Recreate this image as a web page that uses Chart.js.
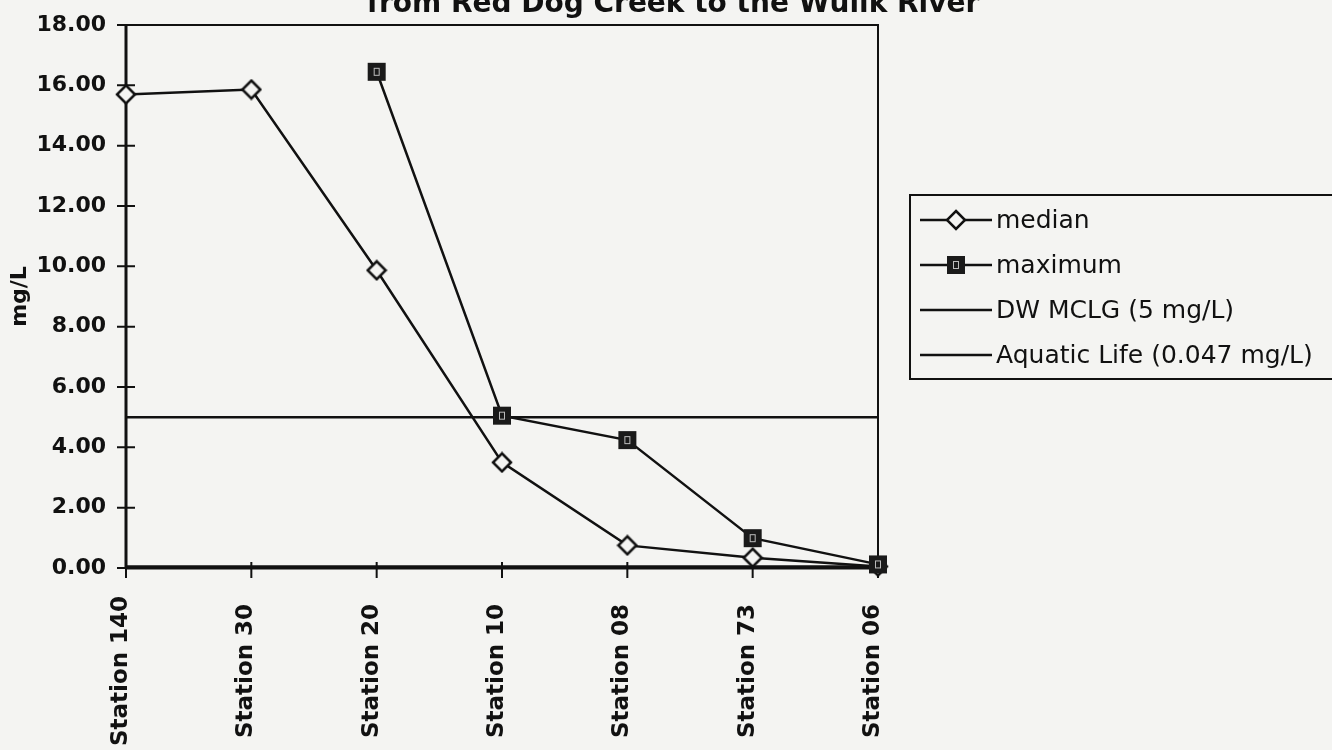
<!DOCTYPE html>
<html>
<head>
<meta charset="utf-8">
<script src="https://cdn.jsdelivr.net/npm/chart.js@4.4.1/dist/chart.umd.min.js"></script>
<style>
  body { margin: 0; background: #f4f4f2; }
  canvas { display: block; }
</style>
</head>
<body>
<canvas id="myChart" width="1332" height="750"></canvas>
<script>
// data
const stations = ['Station 140', 'Station 30', 'Station 20', 'Station 10', 'Station 08', 'Station 73', 'Station 06']
const median = [15.7, 15.86, 9.87, 3.5, 0.75, 0.34, 0.05]
const maximum = [null, null, 16.45, 5.05, 4.24, 0.99, 0.12]
const mclg = [5, 5, 5, 5, 5, 5, 5]
const aquatic = [0.047, 0.047, 0.047, 0.047, 0.047, 0.047, 0.047]
const yTicks = [0, 2, 4, 6, 8, 10, 12, 14, 16, 18]
const titleText = 'from Red Dog Creek to the Wulik River'

const BG = '#f4f4f2'
const INK = '#111'

function diamondMarker() {
  var c = document.createElement('canvas')
  c.width = 22; c.height = 22
  var g = c.getContext('2d')
  g.fillStyle = BG
  g.strokeStyle = INK
  g.lineWidth = 2.5
  g.beginPath()
  g.moveTo(11, 2); g.lineTo(20, 11); g.lineTo(11, 20); g.lineTo(2, 11)
  g.closePath()
  g.fill(); g.stroke()
  return c
}

function squareMarker() {
  var c = document.createElement('canvas')
  c.width = 20; c.height = 20
  var g = c.getContext('2d')
  g.fillStyle = '#1a1a1a'
  g.fillRect(1, 1, 18, 18)
  g.strokeStyle = '#bbb'
  g.lineWidth = 1
  g.strokeRect(7.5, 6.5, 5, 7)
  return c
}

const diamond = diamondMarker()
const square = squareMarker()

// frame, crossing tick marks, cut-off title, rotated station labels and boxed legend
const excelLook = {
  id: 'excelLook',
  beforeDatasetsDraw(chart) {
    const ctx = chart.ctx
    const a = chart.chartArea
    const x = chart.scales.x
    const y = chart.scales.y
    ctx.save()
    ctx.strokeStyle = INK
    ctx.lineWidth = 2
    ctx.strokeRect(a.left, a.top, a.right - a.left, a.bottom - a.top)
    ctx.lineWidth = 3
    ctx.beginPath()
    ctx.moveTo(a.left, a.top); ctx.lineTo(a.left, a.bottom + 1)
    ctx.moveTo(a.left - 1, a.bottom); ctx.lineTo(a.right + 1, a.bottom)
    ctx.stroke()
    ctx.lineWidth = 2
    ctx.beginPath()
    yTicks.forEach(function (v) {
      var py = y.getPixelForValue(v)
      ctx.moveTo(a.left - 9, py); ctx.lineTo(a.left + 9, py)
    })
    stations.forEach(function (s, i) {
      var px = x.getPixelForValue(i)
      ctx.moveTo(px, a.bottom - 6); ctx.lineTo(px, a.bottom + 10)
    })
    ctx.stroke()
    ctx.restore()
  },
  afterDraw(chart) {
    const ctx = chart.ctx
    const x = chart.scales.x
    ctx.save()
    ctx.fillStyle = INK

    ctx.font = 'bold 28px "DejaVu Sans"'
    ctx.textAlign = 'center'
    ctx.textBaseline = 'alphabetic'
    ctx.fillText(titleText, 673, 12)

    ctx.font = 'bold 23px "DejaVu Sans"'
    ctx.textBaseline = 'middle'
    stations.forEach(function (s, i) {
      ctx.save()
      ctx.translate(x.getPixelForValue(i) - 5, 671)
      ctx.rotate(-Math.PI / 2)
      ctx.fillText(s, 0, 0)
      ctx.restore()
    })

    // legend box
    ctx.strokeStyle = INK
    ctx.lineWidth = 2
    ctx.strokeRect(910, 195, 440, 184)
    ctx.lineWidth = 2.5
    ctx.font = '25px "DejaVu Sans"'
    ctx.textAlign = 'left'
    chart.data.datasets.forEach(function (ds, i) {
      var ly = 220 + i * 45
      ctx.beginPath()
      ctx.moveTo(920, ly); ctx.lineTo(992, ly)
      ctx.stroke()
      if (ds.pointStyle) {
        ctx.drawImage(ds.pointStyle, 956 - ds.pointStyle.width / 2, ly - ds.pointStyle.height / 2)
      }
      ctx.fillText(ds.label, 996, ly + 1)
    })
    ctx.restore()
  }
}

const ctx = document.getElementById('myChart').getContext('2d')
const chart = new Chart(ctx, {
  type: 'line',
  data: {
    labels: stations,
    datasets: [
      { label: 'median', data: median, borderColor: INK, borderWidth: 2.5, pointStyle: diamond, pointRadius: 10, order: 1, clip: false },
      { label: 'maximum', data: maximum, borderColor: INK, borderWidth: 2.5, pointStyle: square, pointRadius: 10, order: 0, clip: false },
      { label: 'DW MCLG (5 mg/L)', data: mclg, borderColor: INK, borderWidth: 2.5, pointRadius: 0, order: 2 },
      { label: 'Aquatic Life (0.047 mg/L)', data: aquatic, borderColor: INK, borderWidth: 2.5, pointRadius: 0, order: 3, clip: false }
    ]
  },
  options: {
    responsive: false,
    animation: false,
    layout: { padding: { top: 25, left: 0, right: 454, bottom: 0 } },
    plugins: {
      legend: { display: false },
      tooltip: { enabled: false },
      title: { display: false }
    },
    scales: {
      x: {
        offset: false,
        grid: { display: false, drawTicks: false },
        border: { display: false },
        ticks: { display: false },
        afterFit: function (scale) { scale.height = 182 }
      },
      y: {
        min: 0,
        max: 18,
        afterBuildTicks: function (scale) { scale.ticks = yTicks.map(function (v) { return { value: v } }) },
        grid: { display: false, drawTicks: false },
        border: { display: false },
        ticks: {
          color: INK,
          padding: 20,
          font: { family: 'DejaVu Sans', size: 22, weight: 'bold' },
          callback: function (v) { return Number(v).toFixed(2) }
        },
        title: {
          display: true,
          text: 'mg/L',
          color: INK,
          font: { family: 'DejaVu Sans', size: 22, weight: 'bold' },
          padding: { top: 7, bottom: 0 }
        },
        afterFit: function (scale) {
          scale.width = 126
          scale.paddingTop = 0
          scale.paddingBottom = 0
        }
      }
    }
  },
  plugins: [excelLook]
})
</script>
</body>
</html>
